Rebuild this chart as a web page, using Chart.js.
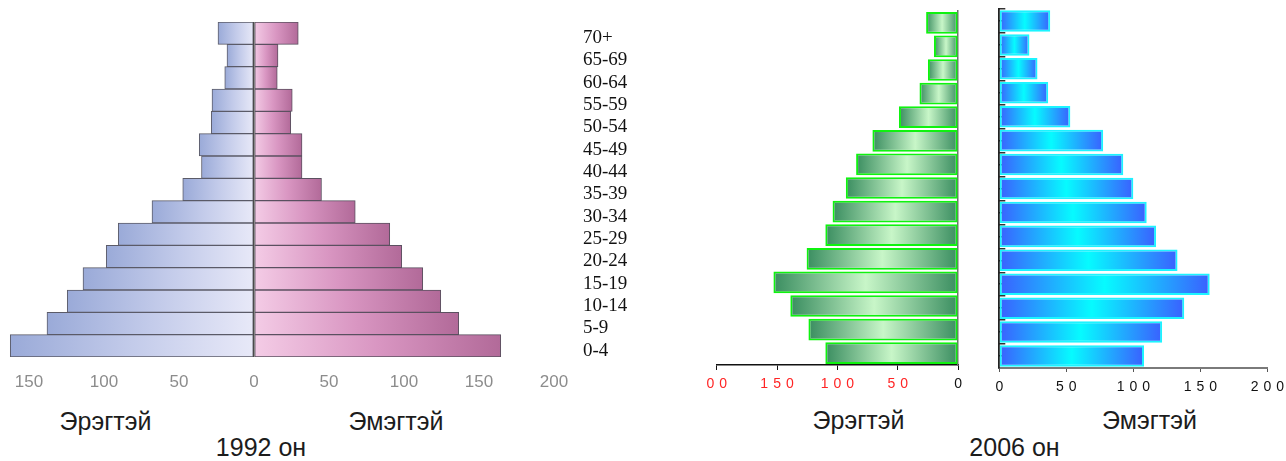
<!DOCTYPE html>
<html><head><meta charset="utf-8">
<script src="https://cdn.jsdelivr.net/npm/chart.js@4.4.1/dist/chart.umd.min.js"></script>
<style>
html,body{margin:0;padding:0;background:#fff;width:1286px;height:461px;overflow:hidden;position:relative;font-family:"Liberation Sans",Arial,sans-serif;}
canvas{position:absolute;top:0;}
.t{position:absolute;font-size:25px;line-height:25px;color:#1c1c1c;white-space:nowrap;transform:translateX(-50%);}
</style></head><body>
<canvas id="c1" width="660" height="397" style="left:0px"></canvas>
<canvas id="c2" width="268" height="400" style="left:700px"></canvas>
<canvas id="c3" width="301" height="400" style="left:985px"></canvas>
<div class="t" style="left:105.5px;top:409px">Эрэгтэй</div>
<div class="t" style="left:396px;top:409px">Эмэгтэй</div>
<div class="t" style="left:261px;top:435px">1992 он</div>
<div class="t" style="left:858.5px;top:408px">Эрэгтэй</div>
<div class="t" style="left:1149.5px;top:408px">Эмэгтэй</div>
<div class="t" style="left:1014.5px;top:435px">2006 он</div>
<script>
// ---- data ----
const ages = ['70+','65-69','60-64','55-59','50-54','45-49','40-44','35-39','30-34','25-29','20-24','15-19','10-14','5-9','0-4'];
const male1992   = [24, 18, 19.5, 28, 28.5, 36.5, 35, 47.5, 68, 90.5, 98.5, 114, 124.5, 138, 162.5];
const female1992 = [29.5, 16, 15.5, 25.5, 24.5, 32, 32, 45, 67.5, 90.5, 98.5, 112.5, 124.5, 136.5, 164.5];
const male2006   = [26.5, 20, 25, 32, 49, 71, 84.5, 93, 104, 110, 125.5, 153, 139, 124, 110];
const female2006 = [38, 22.5, 28.5, 36.5, 53, 77.5, 92.5, 100, 110, 117, 133, 157, 138, 121.5, 108];
const ticks1992 = [-150, -100, -50, 0, 50, 100, 150, 200];
const tickLabels1992 = ['150', '100', '50', '0', '50', '100', '150', '200'];
const ticksMale2006 = [200, 150, 100, 50, 0];
const tickLabelsMale2006 = ['00', '150', '100', '50', '0'];
const ticksFemale2006 = [0, 50, 100, 150, 200];
const tickLabelsFemale2006 = ['0', '50', '100', '150', '200'];

Chart.defaults.font.family = '"Liberation Sans", Arial, sans-serif';

function barGrad(stops, fallback) {
  return function (c) {
    const ch = c.chart;
    if (!ch.chartArea || c.raw == null) return fallback;
    const xs = ch.scales.x;
    const p0 = xs.getPixelForValue(0), p1 = xs.getPixelForValue(c.raw);
    if (!isFinite(p0) || !isFinite(p1) || p0 === p1) return fallback;
    const g = ch.ctx.createLinearGradient(p1, 0, p0, 0);
    stops.forEach(s => g.addColorStop(s[0], s[1]));
    return g;
  };
}

const spacing = {
  id: 'spacing',
  afterDatasetsDraw(chart, args, opts) { if (opts && opts.value) chart.ctx.letterSpacing = opts.value; },
  afterDraw(chart) { chart.ctx.letterSpacing = '0px'; }
};

// ---- 1992 ----
new Chart(document.getElementById('c1'), {
  type: 'bar',
  data: {
    labels: ages,
    datasets: [
      { label: 'Эрэгтэй', data: male1992.map(v => -v),
        backgroundColor: barGrad([[0, '#9aaad8'], [0.5, '#c3cbea'], [1, '#e8e9f8']], '#c3cbea'),
        borderColor: '#5b5b68', borderWidth: 1, borderSkipped: false,
        barPercentage: 1, categoryPercentage: 1 },
      { label: 'Эмэгтэй', data: female1992,
        backgroundColor: barGrad([[0, '#b26a99'], [0.5, '#d996c2'], [1, '#f4cce6']], '#d996c2'),
        borderColor: '#5b5060', borderWidth: 1, borderSkipped: false,
        barPercentage: 1, categoryPercentage: 1 }
    ]
  },
  options: {
    indexAxis: 'y', responsive: false, animation: false, devicePixelRatio: 1, events: [],
    layout: { padding: { left: 0, top: 22, right: 0, bottom: 0 } },
    plugins: { legend: { display: false }, tooltip: { enabled: false } },
    scales: {
      x: {
        type: 'linear', stacked: true, min: -169.33, max: 202,
        afterBuildTicks: s => { s.ticks = ticks1992.map(v => ({ value: v })); },
        ticks: { callback: (v, i) => tickLabels1992[i], color: '#8c8c8c', font: { size: 17 }, padding: 15, autoSkip: false, maxRotation: 0 },
        grid: { z: 1, drawTicks: false, lineWidth: 1.5, color: c => (c.tick && c.tick.value === 0) ? '#4a4a4a' : 'rgba(0,0,0,0)' },
        border: { display: false },
        afterFit: s => { s.height = 40; s.paddingLeft = 0; s.paddingRight = 0; }
      },
      y: {
        position: 'right', stacked: true,
        grid: { display: false, drawTicks: false }, border: { display: false },
        ticks: { autoSkip: false, padding: 26, labelOffset: 5, color: '#111', font: { family: '"Liberation Serif", "Times New Roman", serif', size: 19 } },
        afterFit: s => { s.width = 103; s.paddingTop = 0; s.paddingBottom = 0; }
      }
    }
  }
});

// ---- 2006 male ----
new Chart(document.getElementById('c2'), {
  type: 'bar',
  plugins: [spacing],
  data: {
    labels: ages,
    datasets: [{ label: 'Эрэгтэй', data: male2006,
      backgroundColor: barGrad([[0, '#3a8d60'], [0.5, '#c8f6c8'], [1, '#3a8d60']], '#7fc49a'),
      borderColor: '#0ff20f', borderWidth: 2, borderSkipped: false,
      barPercentage: 0.92, categoryPercentage: 1 }]
  },
  options: {
    indexAxis: 'y', responsive: false, animation: false, devicePixelRatio: 1, events: [],
    layout: { padding: { left: 16.7, top: 11, right: 8.7, bottom: 0 } },
    plugins: { legend: { display: false }, tooltip: { enabled: false }, spacing: { value: '5px' } },
    scales: {
      x: {
        type: 'linear', reverse: true, min: 0, max: 200,
        afterBuildTicks: s => { s.ticks = ticksMale2006.map(v => ({ value: v })); },
        ticks: { z: 1, callback: (v, i) => tickLabelsMale2006[i], color: c => (c.tick && c.tick.value === 0) ? '#111' : '#ff2424',
          font: { size: 14 }, padding: 6, autoSkip: false, maxRotation: 0, labelOffset: 2.5 },
        grid: { drawOnChartArea: false, drawTicks: true, tickLength: 5, tickColor: '#111', lineWidth: 1 },
        border: { color: '#111', width: 1.5 },
        afterFit: s => { s.height = 35; }
      },
      y: {
        position: 'right',
        grid: { drawOnChartArea: false, drawTicks: false },
        ticks: { display: false },
        border: { color: '#6e6e6e', width: 1.5 },
        afterFit: s => { s.width = 0; }
      }
    }
  }
});

// ---- 2006 female ----
new Chart(document.getElementById('c3'), {
  type: 'bar',
  plugins: [spacing],
  data: {
    labels: ages,
    datasets: [{ label: 'Эмэгтэй', data: female2006, yAxisID: 'y',
      backgroundColor: barGrad([[0, '#3a60ff'], [0.5, '#06fbff'], [1, '#3a60ff']], '#1fa8ff'),
      borderColor: '#1cf4ff', borderWidth: 2, borderSkipped: false,
      barPercentage: 0.9, categoryPercentage: 1 }]
  },
  options: {
    indexAxis: 'y', responsive: false, animation: false, devicePixelRatio: 1, events: [],
    layout: { padding: { left: 14.3, top: 9, right: 15, bottom: 0 } },
    plugins: { legend: { display: false }, tooltip: { enabled: false }, spacing: { value: '5px' } },
    scales: {
      x: {
        type: 'linear', min: 0, max: 200,
        afterBuildTicks: s => { s.ticks = ticksFemale2006.map(v => ({ value: v })); },
        ticks: { z: 1, callback: (v, i) => tickLabelsFemale2006[i], color: '#111',
          font: { size: 14 }, padding: 7, autoSkip: false, maxRotation: 0, labelOffset: 2.5 },
        grid: { drawOnChartArea: false, drawTicks: true, tickLength: 4, tickColor: '#555', lineWidth: 1 },
        border: { color: '#7a7a7a', width: 2 },
        afterFit: s => { s.height = 32; }
      },
      y: {
        type: 'category', position: 'left', offset: true,
        grid: { offset: true, drawOnChartArea: false, drawTicks: true, tickLength: -6, tickColor: '#333', lineWidth: 1.5 },
        ticks: { display: false },
        border: { color: '#222', width: 1.8 },
        afterFit: s => { s.width = 0; }
      },
      y2: {
        type: 'category', position: 'left', offset: true, labels: ages,
        grid: { offset: false, drawOnChartArea: false, drawTicks: true, tickLength: -4, tickColor: '#111', lineWidth: 1.5 },
        ticks: { display: false },
        border: { display: false },
        afterFit: s => { s.width = 0; }
      }
    }
  }
});
</script>
</body></html>
